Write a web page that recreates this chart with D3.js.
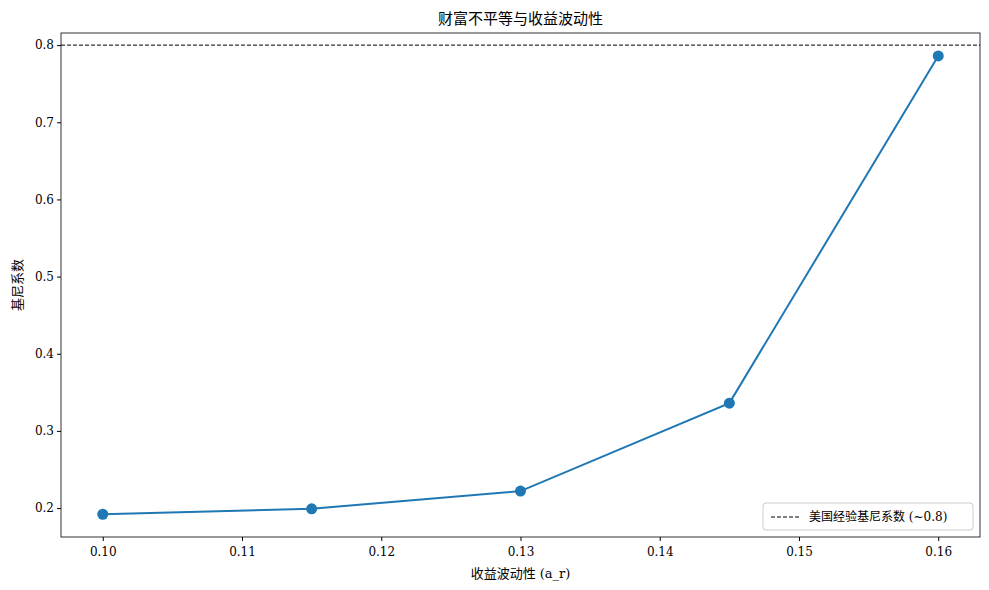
<!DOCTYPE html>
<html lang="zh">
<head>
<meta charset="UTF-8">
<title>财富不平等与收益波动性</title>
<style>
    body { margin: 0; background: #fff; }
    svg text { font-family: "DejaVu Serif", "Liberation Serif", "Noto Sans CJK SC", serif; fill: #000; }
</style>
</head>
<body>
<svg id="chart" width="989" height="590"></svg>
<script src="https://cdn.jsdelivr.net/npm/d3@7/dist/d3.min.js"></script>
<script>
const volatility = [0.10, 0.115, 0.13, 0.145, 0.16]
const gini = [0.192, 0.199, 0.222, 0.336, 0.786]
const xTicks = [0.10, 0.11, 0.12, 0.13, 0.14, 0.15, 0.16]
const yTicks = [0.2, 0.3, 0.4, 0.5, 0.6, 0.7, 0.8]
const usGini = 0.8

const svg = d3.select('#chart')
const m = { left: 61, right: 980, top: 33, bottom: 537 }

const x = d3.scaleLinear().domain([0.097, 0.163]).range([m.left, m.right])
const y = d3.scaleLinear().domain([0.1625, 0.8157]).range([m.bottom, m.top])

svg.append('g').attr('transform', `translate(0,${m.bottom})`)
    .call(d3.axisBottom(x).tickValues(xTicks).tickFormat(d3.format('.2f')).tickSizeOuter(0).tickSize(4))
    .call(g => g.selectAll('text').attr('font-size', 12).attr('dy', '1em'))
svg.append('g').attr('transform', `translate(${m.left},0)`)
    .call(d3.axisLeft(y).tickValues(yTicks).tickFormat(d3.format('.1f')).tickSizeOuter(0).tickSize(4))
    .call(g => g.selectAll('text').attr('font-size', 12))
svg.selectAll('.domain').remove()
svg.append('rect').attr('x', m.left).attr('y', m.top)
    .attr('width', m.right - m.left).attr('height', m.bottom - m.top)
    .attr('fill', 'none').attr('stroke', '#000').attr('stroke-width', 0.8)

svg.append('line').attr('x1', m.left).attr('x2', m.right)
    .attr('y1', y(usGini)).attr('y2', y(usGini))
    .attr('stroke', '#000').attr('stroke-dasharray', '4,2').attr('stroke-width', 1)

const pts = volatility.map((v, i) => [v, gini[i]])
svg.append('path').datum(pts)
    .attr('d', d3.line().x(d => x(d[0])).y(d => y(d[1])))
    .attr('fill', 'none').attr('stroke', '#1f77b4').attr('stroke-width', 2)
svg.selectAll('circle.pt').data(pts).enter().append('circle')
    .attr('cx', d => x(d[0])).attr('cy', d => y(d[1])).attr('r', 5.5).attr('fill', '#1f77b4')

svg.append('text').attr('x', (m.left + m.right) / 2).attr('y', 24)
    .attr('text-anchor', 'middle').attr('font-size', 15).text('财富不平等与收益波动性')
svg.append('text').attr('x', (m.left + m.right) / 2).attr('y', 578)
    .attr('text-anchor', 'middle').attr('font-size', 13).text('收益波动性 (a_r)')
svg.append('text').attr('transform', `translate(22,${(m.top + m.bottom) / 2}) rotate(-90)`)
    .attr('text-anchor', 'middle').attr('font-size', 13).text('基尼系数')

const lg = svg.append('g').attr('transform', 'translate(763,503)')
lg.append('rect').attr('width', 210).attr('height', 27).attr('rx', 3)
    .attr('fill', '#fff').attr('stroke', '#ccc')
lg.append('line').attr('x1', 8).attr('x2', 36).attr('y1', 14).attr('y2', 14)
    .attr('stroke', '#000').attr('stroke-dasharray', '4,2')
lg.append('text').attr('x', 46).attr('y', 18).attr('font-size', 12).text('美国经验基尼系数 (~0.8)')
</script>
</body>
</html>
